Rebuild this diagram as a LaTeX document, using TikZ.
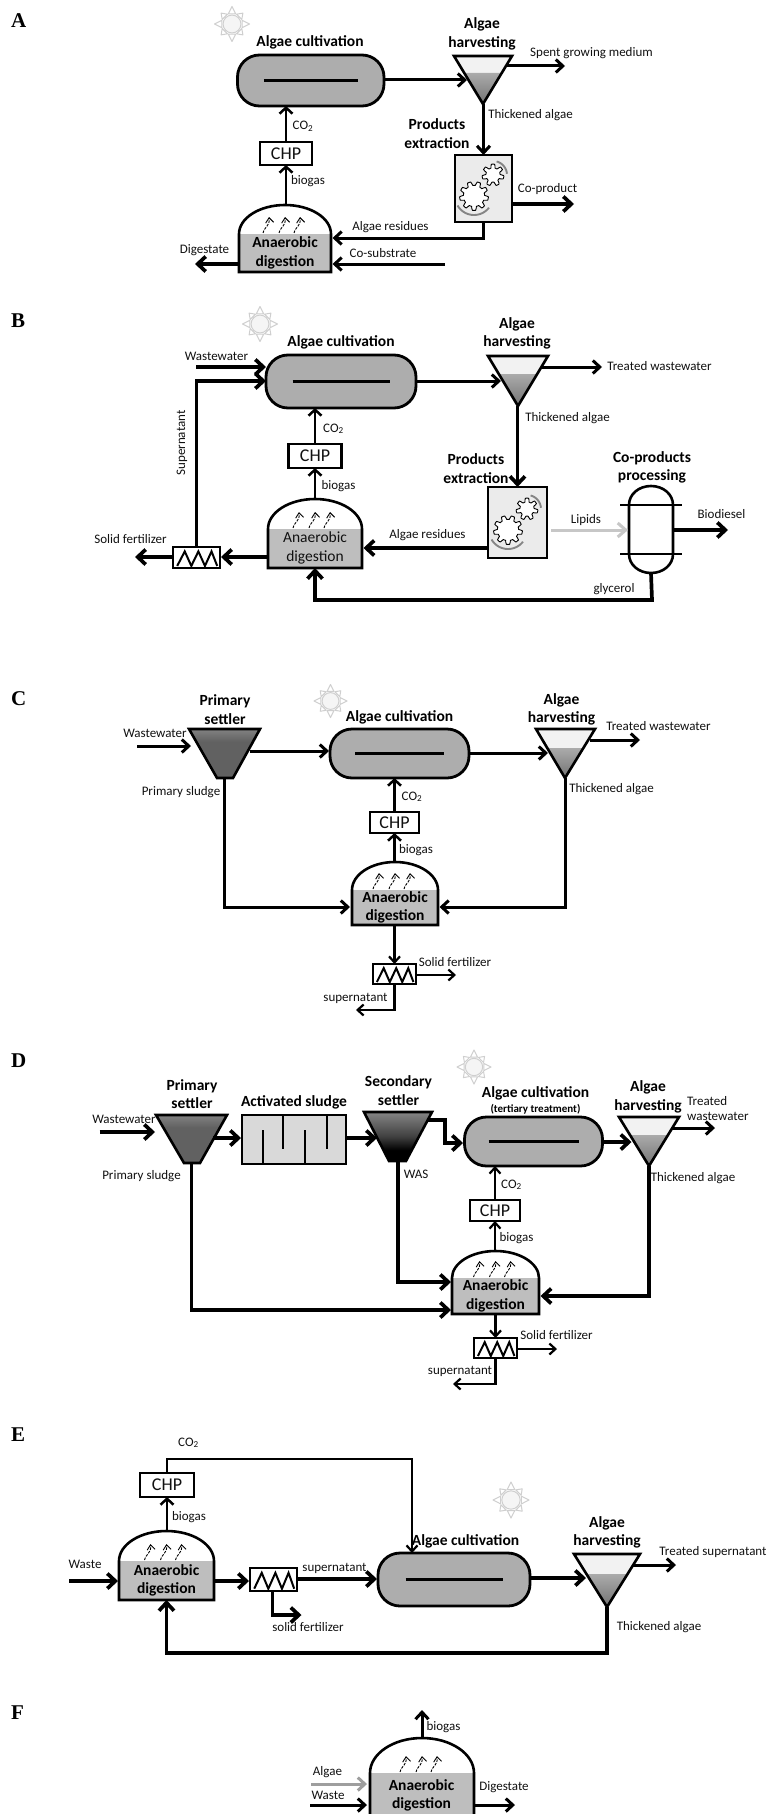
\documentclass[tikz,border=0pt]{standalone}
\usepackage{fontspec}
\setmainfont{Carlito}
\newfontfamily\panelfont{Liberation Serif}
\usetikzlibrary{arrows.meta,calc}
\definecolor{ink}{HTML}{111111}
\definecolor{pillgrey}{HTML}{ADADAD}
\definecolor{liq}{HTML}{BEBEBE}
\definecolor{sunc}{HTML}{CFCFCF}
\pgfdeclareverticalshading{primshade}{100bp}{color(0bp)=(black!62); color(62bp)=(black!62); color(92bp)=(black!32); color(100bp)=(black!32)}
\pgfdeclareverticalshading{secshade}{100bp}{color(0bp)=(black); color(36bp)=(black); color(50bp)=(black!75); color(82bp)=(black!40); color(100bp)=(black!38)}
\tikzset{
  x=1pt,y=-1pt,
  ghost/.style={shape=rectangle,inner sep=0pt,outer sep=0pt,draw=none},
  lab/.style={font=\fontsize{13}{15}\selectfont,inner sep=0pt,text=ink,text height=9pt,text depth=3pt},
  ttl/.style={font=\bfseries\fontsize{15.5}{18.5}\selectfont,inner sep=0pt,align=center,text=black},
  ttlr/.style={font=\fontsize{15.5}{18.5}\selectfont,inner sep=0pt,align=center,text=ink},
  panel/.style={font=\panelfont\bfseries\fontsize{21}{21}\selectfont,inner sep=0pt,anchor=base west},
  thn/.style={draw=black,line width=2.2pt,-{Straight Barb[length=6pt,width=11pt]}},
  chp/.style={draw=black,line width=2.5pt,-{Straight Barb[length=6pt,width=13pt]}},
  med/.style={draw=black,line width=3pt,-{Straight Barb[length=7pt,width=13pt]}},
  thk/.style={draw=black,line width=3.7pt,-{Straight Barb[length=8pt,width=15pt]}},
  outl/.style={draw=black,line width=2.6pt,line join=miter},
  gas/.style={draw=black,line width=.9pt,dash pattern=on 2.6pt off 1.3pt,-{Straight Barb[length=5pt,width=8pt]}},
}
\newcommand{\Lab}[4]{\node[lab] (#1) at (#2,#3) {#4};}
\newcommand{\Ttl}[4]{\node[ttl] (#1) at (#2,#3) {#4};}
\newcommand{\Sun}[4]{%
  \foreach \a in {0,45,...,315}{%
    \pgfmathsetmacro\rr{mod(\a,90)==0?#4:0.88*#4}
    \draw[sunc,line width=1pt,fill=white,line join=round]
      ({#2+0.62*#4*cos(\a-20)},{#3+0.62*#4*sin(\a-20)}) --
      ({#2+\rr*cos(\a)},{#3+\rr*sin(\a)}) --
      ({#2+0.62*#4*cos(\a+20)},{#3+0.62*#4*sin(\a+20)}) -- cycle;}
  \node[shape=circle,draw=sunc,line width=1pt,fill=black!4,inner sep=0pt,minimum size={1.02*#4}] (#1) at (#2,#3) {};}
\newcommand{\Pill}[6]{%
  \node[shape=rectangle,inner sep=0pt,outer sep=0pt,draw=black,line width=2.8pt,fill=pillgrey,rounded corners=22pt,minimum width=#4,minimum height=#5] (#1) at (#2,#3) {};
  \draw[black,line width=2.4pt] ([xshift=-#6pt]#1.center) -- ([xshift=#6pt]#1.center);}
\newcommand{\Harvest}[7]{% name xl xr ytop xapex yapex yliq
  \pgfmathsetmacro\tf{(#7-#4)/(#6-#4)}
  \node[ghost,minimum width={#3-#2},minimum height={#6-#4}] (#1) at ({(#2+#3)/2},{(#4+#6)/2}) {};
  \fill[black!5] (#2,#4) -- (#3,#4) -- (#5,#6) -- cycle;
  \shade[top color=black!33,bottom color=black!55] ({#2+(#5-#2)*\tf},#7) -- ({#3+(#5-#3)*\tf},#7) -- (#5,#6) -- cycle;
  \draw[outl] (#2,#4) -- (#3,#4) -- (#5,#6) -- cycle;}
\newcommand{\Settler}[8]{% name xtl xtr ytop xbl xbr ybot shading
  \node[ghost,minimum width={#3-#2},minimum height={#7-#4}] (#1) at ({(#2+#3)/2},{(#4+#7)/2}) {};
  \shade[shading=#8] (#2,#4) -- (#3,#4) -- (#6,#7) -- (#5,#7) -- cycle;
  \draw[outl] (#2,#4) -- (#3,#4) -- (#6,#7) -- (#5,#7) -- cycle;}
\newcommand{\Digester}[6]{% name xl xr ytop yliq ybot
  \pgfmathsetmacro\dcx{(#2+#3)/2}
  \pgfmathsetmacro\drx{(#3-#2)/2}
  \pgfmathsetmacro\dry{#5-#4}
  \node[ghost,minimum width={#3-#2},minimum height={#6-#4}] (#1) at (\dcx,{(#4+#6)/2}) {};
  \fill[white] (#2,#5) .. controls (#2,{#5-0.5523*\dry}) and ({\dcx-0.5523*\drx},#4) .. (\dcx,#4) .. controls ({\dcx+0.5523*\drx},#4) and (#3,{#5-0.5523*\dry}) .. (#3,#5) -- cycle;
  \fill[liq] (#2,#5) rectangle (#3,#6);
  \draw[outl] (#2,#5) .. controls (#2,{#5-0.5523*\dry}) and ({\dcx-0.5523*\drx},#4) .. (\dcx,#4) .. controls ({\dcx+0.5523*\drx},#4) and (#3,{#5-0.5523*\dry}) .. (#3,#5) -- (#3,#6) -- (#2,#6) -- cycle;
  \foreach \o in {-16,0,15}{%
    \draw[gas] ({\dcx+\o-6},{#5-1}) .. controls ({\dcx+\o-4},{#5-8}) and ({\dcx+\o+1},{#5-8}) .. ({\dcx+\o},{#5-17});}}
\newcommand{\CHP}[5]{%
  \node[shape=rectangle,inner sep=0pt,outer sep=0pt,draw=black,line width=2.6pt,fill=white,minimum width=#4,minimum height=#5,font=\fontsize{18}{20}\selectfont,text=ink] (#1) at (#2,#3) {CHP};}
\newcommand{\HX}[5]{% name cx cy w h
  \node[shape=rectangle,inner sep=0pt,outer sep=0pt,draw=black,line width=2.6pt,fill=white,minimum width=#4,minimum height=#5] (#1) at (#2,#3) {};
  \draw[black,line width=2pt,line join=miter]
    ({#2-#4*.41},{#3+#5*.40}) -- ({#2-#4*.25},{#3-#5*.29}) -- ({#2-#4*.11},{#3+#5*.40}) -- ({#2+#4*.04},{#3-#5*.29}) -- ({#2+#4*.18},{#3+#5*.40}) -- ({#2+#4*.32},{#3-#5*.29}) -- ({#2+#4*.44},{#3+#5*.40});}
\newcommand{\Gear}[4]{% cx cy r teeth
  \draw[black,line width=.9pt,fill=white,line join=round] plot[smooth,tension=.25,samples=109,domain=0:360,variable=\t]
    ({#1+(#3+1.9*max(-1,min(1,2.2*sin(#4*\t))))*cos(\t)},{#2+(#3+1.9*max(-1,min(1,2.2*sin(#4*\t))))*sin(\t)}) -- cycle;}
\newcommand{\Extract}[5]{% name cx cy w h
  \node[shape=rectangle,inner sep=0pt,outer sep=0pt,draw=black,line width=2.6pt,fill=black!8,minimum width=#4,minimum height=#5] (#1) at (#2,#3) {};
  \Gear{#2+9.5}{#3-13.5}{9}{7}
  \Gear{#2-9.5}{#3+7.5}{12.5}{9}
  \draw[black!48,line width=1.9pt] plot[samples=25,domain=38:150,variable=\t] ({#2-9.5+19*cos(\t)},{#3+7.5+19*sin(\t)});
  \draw[black!48,line width=1.9pt] plot[samples=15,domain=-75:-5,variable=\t] ({#2+9.5+14*cos(\t)},{#3-13.5+14*sin(\t)});}
\newcommand{\Vessel}[5]{% name xl xr ytop ybot
  \pgfmathsetmacro\vcx{(#2+#3)/2}
  \node[ghost,minimum width={#3-#2},minimum height={#5-#4}] (#1) at (\vcx,{(#4+#5)/2}) {};
  \draw[outl,fill=white] (#2,#4+19) .. controls (#2,#4+8) and ({\vcx-12},#4) .. (\vcx,#4) .. controls ({\vcx+12},#4) and (#3,#4+8) .. (#3,#4+19) -- (#3,#5-19) .. controls (#3,#5-8) and ({\vcx+12},#5) .. (\vcx,#5) .. controls ({\vcx-12},#5) and (#2,#5-8) .. (#2,#5-19) -- cycle;}
\begin{document}
\begin{tikzpicture}
\useasboundingbox (0,0) rectangle (771,1814);
\fill[white] (0,0) rectangle (771,1814);

%% ---------- Panel A
\node[panel] (aLet) at (11,28) {A};
\Sun{aS}{232}{24}{17.5}
\Ttl{aT1}{310}{42}{Algae cultivation}
\Pill{aC}{310.75}{80.5}{146.5}{51}{47}
\Harvest{aH}{454}{512}{56}{483}{104}{73}
\Ttl{aT2}{482}{34}{Algae\\harvesting}
\Lab{aL1}{591.5}{54}{Spent growing medium}
\Lab{aL2}{530.5}{116}{Thickened algae}
\Ttl{aT3}{437}{133.5}{Products\\extraction}
\Extract{aE}{483.5}{188.5}{57}{67}
\Lab{aL3}{547.5}{190}{Co-product}
\Lab{aL4}{390.5}{227}{Algae residues}
\Lab{aL5}{383}{254}{Co-substrate}
\Lab{aL6}{204.5}{250}{Digestate}
\Digester{aD}{239}{331}{205}{234}{272}
\node[ttl] (aT4) at (285,253) {Anaerobic\\digestion};
\CHP{aP}{286}{153.5}{52}{23}
\Lab{aL7}{303}{127}{CO\textsubscript{2}}
\Lab{aL8}{308}{182}{biogas}
\coordinate (aH1) at (467,80);
\coordinate (aH2) at (507,66);
\coordinate (aO1) at (565,66);
\coordinate (aO2) at (574,204);
\coordinate (aD1) at (332.5,238);
\coordinate (aD2) at (332.5,264);
\coordinate (aI1) at (445,264);
\coordinate (aO3) at (195,264);
\draw[med] (aC.east |- aH1) -- (aH1);
\draw[med] (aH2) -- (aO1);
\draw[med] (aE.north |- aH.south) -- (aE.north);
\draw[thk] (aE.east |- aO2) -- (aO2);
\draw[med] (aE.south) |- (aD1);
\draw[med] (aI1) -- (aD2);
\draw[thk] (aD.west |- aO3) -- (aO3);
\draw[chp] (aP.center |- aD.north) -- (aP.south);
\draw[chp] (aP.north) -- (aP.center |- aC.south);

%% ---------- Panel B
\node[panel] (bLet) at (11,327) {B};
\Sun{bS}{260}{324}{17.5}
\Ttl{bT1}{341}{342}{Algae cultivation}
\Pill{bC}{341}{381.5}{150}{53}{48.5}
\Harvest{bH}{488}{548}{356}{518}{406}{374}
\Ttl{bT2}{517}{333.5}{Algae\\harvesting}
\Lab{bL1}{659.5}{367}{Treated wastewater}
\Lab{bL2}{567.5}{418}{Thickened algae}
\Ttl{bT3}{476}{468.5}{Products\\extraction}
\Ttl{bT5}{652}{467.5}{Co-products\\processing}
\Extract{bE}{517.5}{522.5}{59}{71}
\Vessel{bV}{629}{673}{486}{573}
\draw[black,line width=2.6pt] (620,505) -- (682,505) (620,554) -- (682,554);
\Lab{bL3}{586}{520}{Lipids}
\Lab{bL4}{721.5}{515}{Biodiesel}
\Lab{bL5}{614}{589}{glycerol}
\Lab{bL6}{427.5}{535}{Algae residues}
\Lab{bL7}{216.5}{357}{Wastewater}
\node[lab,rotate=90] (bL8) at (182,443) {Supernatant};
\Lab{bL9}{130.5}{540}{Solid fertilizer}
\Digester{bD}{268}{362}{499}{529}{568}
\node[ttlr] (bT4) at (315,548) {Anaerobic\\digestion};
\CHP{bP}{315}{456}{53}{24}
\Lab{bL10}{333.5}{429}{CO\textsubscript{2}}
\Lab{bL11}{338.5}{486}{biogas}
\HX{bX}{196.5}{557.5}{47}{21}
\coordinate (bW) at (196,367);
\coordinate (bC1) at (266,367);
\coordinate (bC2) at (266,381);
\coordinate (bH1) at (501,381);
\coordinate (bH2) at (542,367);
\coordinate (bO1) at (602,367);
\coordinate (bE1) at (551,530);
\coordinate (bV1) at (628,530);
\coordinate (bO2) at (728,530);
\coordinate (bD1) at (363.5,548);
\coordinate (bX1) at (221,557);
\coordinate (bO3) at (135,557);
\coordinate (bG) at (652,600);
\draw[thk] (bW) -- (bC1);
\draw[thk] (bX.north) |- (bC2);
\draw[med] (bC.east |- bH1) -- (bH1);
\draw[med] (bH2) -- (bO1);
\draw[thk] (bE.north |- bH.south) -- (bE.north);
\draw[draw=black!22,line width=3pt,-{Straight Barb[length=8pt,width=14pt]}] (bE1) -- (bV1);
\draw[thk] (bV.east |- bO2) -- (bO2);
\draw[thk] (bE.west |- bD1) -- (bD1);
\draw[thk] (bD.west |- bX1) -- (bX1);
\draw[thk] (bX.west |- bO3) -- (bO3);
\draw[thk] (bV.south) -- (bG) -| (bD.south);
\draw[chp] (bP.center |- bD.north) -- (bP.south);
\draw[chp] (bP.north) -- (bP.center |- bC.south);

%% ---------- Panel C
\node[panel] (cLet) at (11,705) {C};
\Sun{cS}{330.5}{701}{16.5}
\Ttl{cT1}{399.5}{717}{Algae cultivation}
\Pill{cC}{399.5}{753.5}{139}{49}{44.5}
\Settler{cA}{189}{260}{729}{217}{233}{778}{primshade}
\Ttl{cT2}{225}{709.5}{Primary\\settler}
\Harvest{cH}{536}{595}{729}{565}{778}{748}
\Ttl{cT3}{561.5}{709.5}{Algae\\harvesting}
\Lab{cL1}{155}{734}{Wastewater}
\Lab{cL2}{181}{792}{Primary sludge}
\Lab{cL3}{658.5}{727}{Treated wastewater}
\Lab{cL4}{611.5}{789}{Thickened algae}
\Digester{cD}{352}{438}{862}{890}{925}
\node[ttl] (cT4) at (395,907.5) {Anaerobic\\digestion};
\CHP{cP}{394.5}{822.5}{49}{21}
\Lab{cL5}{412}{797}{CO\textsubscript{2}}
\Lab{cL6}{416}{850}{biogas}
\HX{cX}{394.5}{974}{43}{20}
\Lab{cL7}{455}{963}{Solid fertilizer}
\Lab{cL8}{355.5}{998}{supernatant}
\coordinate (cI) at (137,746);
\coordinate (cA1) at (191,746);
\coordinate (cA2) at (250,751);
\coordinate (cC1) at (329,751);
\coordinate (cH1) at (548,753);
\coordinate (cH2) at (590,740);
\coordinate (cO1) at (640,740);
\coordinate (cD1) at (439.5,907);
\coordinate (cD2) at (350,907);
\coordinate (cO2) at (456,975);
\coordinate (cO3) at (356,1010);
\draw[med] (cI) -- (cA1);
\draw[med] (cA2) -- (cC1);
\draw[med] (cC.east |- cH1) -- (cH1);
\draw[med] (cH2) -- (cO1);
\draw[med] (cH.south) |- (cD1);
\draw[med] (cA.south) |- (cD2);
\draw[chp] (cP.center |- cD.north) -- (cP.south);
\draw[chp] (cP.north) -- (cP.center |- cC.south);
\draw[thn] (cX.center |- cD.south) -- (cX.north);
\draw[thn] (cX.east |- cO2) -- (cO2);
\draw[thn] (cX.south) |- (cO3);

%% ---------- Panel D
\node[panel] (dLet) at (11,1067) {D};
\Sun{dS}{474}{1067}{17}
\Settler{dA}{156}{227}{1115}{184}{200}{1163}{primshade}
\Ttl{dT1}{192}{1094}{Primary\\settler}
\node[shape=rectangle,inner sep=0pt,outer sep=0pt,draw=black,line width=2.6pt,fill=black!15,minimum width=104,minimum height=49] (dB) at (294,1139.5) {};
\draw[black,line width=1.8pt] (263,1164) -- (263,1130) (283,1115) -- (283,1149) (305,1164) -- (305,1130) (327,1115) -- (327,1149);
\Ttl{dT2}{294}{1102}{Activated sludge}
\Settler{dE}{364}{432}{1112}{389}{406}{1161}{secshade}
\Ttl{dT3}{398.5}{1090.5}{Secondary\\settler}
\Ttl{dT4}{535.5}{1093}{Algae cultivation}
\node[font=\bfseries\fontsize{11}{13}\selectfont,inner sep=0pt] (dT5) at (535.5,1109) {(tertiary treatment)};
\Pill{dC}{533.5}{1141.5}{138}{49}{45}
\Harvest{dH}{619}{679}{1117}{649}{1166}{1135}
\Ttl{dT6}{648}{1097}{Algae\\harvesting}
\Lab{dL1}{124}{1120}{Wastewater}
\Lab{dL2}{141.5}{1176}{Primary sludge}
\Lab{dL3}{416}{1175}{WAS}
\node[lab,anchor=base west,text height=,text depth=] (dL4) at (687,1105) {Treated};
\node[lab,anchor=base west,text height=,text depth=] (dL5) at (687,1120) {wastewater};
\Lab{dL6}{693}{1178}{Thickened algae}
\Digester{dD}{452}{539}{1251}{1278}{1314}
\node[ttl] (dT7) at (495.5,1296) {Anaerobic\\digestion};
\CHP{dP}{495}{1210.5}{50}{21}
\Lab{dL7}{511.5}{1185}{CO\textsubscript{2}}
\Lab{dL8}{516.5}{1238}{biogas}
\HX{dX}{495.5}{1348}{43}{20}
\Lab{dL9}{556.5}{1336}{Solid fertilizer}
\Lab{dL10}{460}{1371}{supernatant}
\coordinate (dI) at (99.5,1132);
\coordinate (dA1) at (155,1132);
\coordinate (dA2) at (213,1138);
\coordinate (dB1) at (241,1138);
\coordinate (dE1) at (377,1138);
\coordinate (dE2) at (428,1120);
\coordinate (dK) at (445,1143);
\coordinate (dC1) at (463,1143);
\coordinate (dH1) at (631.5,1142);
\coordinate (dH2) at (672,1128);
\coordinate (dO1) at (715,1128);
\coordinate (dD1) at (451,1282);
\coordinate (dD2) at (451,1310);
\coordinate (dD3) at (540.5,1296);
\coordinate (dO2) at (557,1349);
\coordinate (dO3) at (453,1384);
\draw[thk] (dI) -- (dA1);
\draw[thk] (dA2) -- (dB1);
\draw[thk] (dB.east |- dE1) -- (dE1);
\draw[thk] (dE2) -| (dK) -- (dC1);
\draw[thk] (dC.east |- dH1) -- (dH1);
\draw[med] (dH2) -- (dO1);
\draw[thk] (dE.south) |- (dD1);
\draw[thk] (dA.south) |- (dD2);
\draw[thk] (dH.south) |- (dD3);
\draw[thn] (dP.center |- dD.north) -- (dP.south);
\draw[thn] (dP.north) -- (dP.center |- dC.south);
\draw[thn] (dX.center |- dD.south) -- (dX.north);
\draw[thn] (dX.east |- dO2) -- (dO2);
\draw[thn] (dX.south) |- (dO3);

%% ---------- Panel E
\node[panel] (eLet) at (11,1441) {E};
\Lab{eL1}{188.5}{1443}{CO\textsubscript{2}}
\CHP{eP}{167}{1485}{54}{24}
\Sun{eS}{511}{1500}{18}
\Ttl{eT1}{465.5}{1541}{Algae cultivation}
\Pill{eC}{454}{1579.5}{152}{53}{48.5}
\Harvest{eH}{574}{640}{1554}{607}{1607}{1574}
\Ttl{eT2}{607}{1532.5}{Algae\\harvesting}
\Lab{eL2}{713}{1552}{Treated supernatant}
\Lab{eL3}{659}{1627}{Thickened algae}
\Digester{eD}{119}{214}{1531}{1561}{1600}
\node[ttl] (eT3) at (166.5,1580.5) {Anaerobic\\digestion};
\Lab{eL4}{189}{1517}{biogas}
\Lab{eL5}{85}{1565}{Waste}
\HX{eX}{273.5}{1579.5}{47}{23}
\Lab{eL6}{334.5}{1568}{supernatant}
\Lab{eL7}{308}{1628}{solid fertilizer}
\coordinate (eK) at (412,1459);
\coordinate (eC0) at (412,1553);
\coordinate (eH1) at (586,1578);
\coordinate (eH2) at (633,1565);
\coordinate (eO1) at (676,1565);
\coordinate (eL) at (166.5,1653);
\coordinate (eI) at (69,1581);
\coordinate (eD1) at (118,1581);
\coordinate (eX1) at (249,1581);
\coordinate (eC1) at (377,1579);
\coordinate (eX2) at (272.5,1615);
\coordinate (eO2) at (301.5,1615);
\draw[thn] (eP.north) |- (eK) -- (eC0);
\draw[chp] (eP.center |- eD.north) -- (eP.south);
\draw[thk] (eC.east |- eH1) -- (eH1);
\draw[med] (eH2) -- (eO1);
\draw[thk] (eH.south) |- (eL) -- (eD.south);
\draw[thk] (eI) -- (eD1);
\draw[thk] (eD.east |- eX1) -- (eX1);
\draw[thk] (eX.east |- eC1) -- (eC1);
\draw[thk] (eX2 |- eX.south) -- (eX2) -- (eO2);

%% ---------- Panel F
\node[panel] (fLet) at (11,1719) {F};
\Digester{fD}{370}{474}{1738}{1773}{1816}
\node[ttl] (fT1) at (421.5,1795.5) {Anaerobic\\digestion};
\Lab{fL1}{443.5}{1727}{biogas}
\Lab{fL2}{327.5}{1772}{Algae}
\Lab{fL3}{328}{1796}{Waste}
\Lab{fL4}{504}{1787}{Digestate}
\coordinate (fO1) at (422,1710);
\coordinate (fI1) at (311,1784);
\coordinate (fD1) at (367,1784);
\coordinate (fI2) at (310,1805);
\coordinate (fD2) at (367,1805);
\coordinate (fO2) at (515,1805);
\draw[med] (fD.north) -- (fO1);
\draw[draw=black!38,line width=3pt,-{Straight Barb[length=7pt,width=13pt]}] (fI1) -- (fD1);
\draw[med] (fI2) -- (fD2);
\draw[med] (fD.east |- fO2) -- (fO2);
\end{tikzpicture}
\end{document}
